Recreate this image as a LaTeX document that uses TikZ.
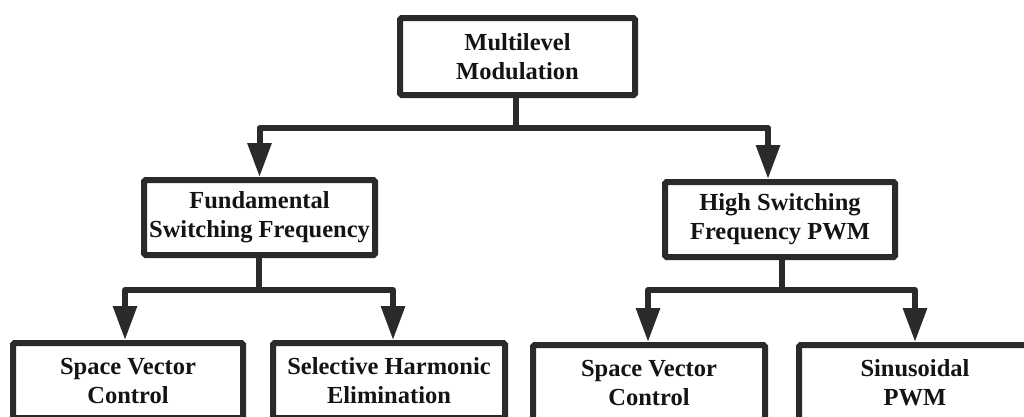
\documentclass[tikz,border=0pt]{standalone}
\usepackage{fontspec}
\setmainfont{Liberation Serif}
\usetikzlibrary{arrows.meta,calc}
\definecolor{ink}{HTML}{2A2A2A}
\definecolor{txt}{HTML}{141414}
\tikzset{
  box/.style={draw=ink, line width=6pt, rounded corners=1.5pt, fill=white,
    minimum width=#1, minimum height=75pt, inner sep=0pt, align=center,
    text=txt, font=\fontsize{24.5}{29}\selectfont\bfseries},
  link/.style={draw=ink, line width=6pt, line join=round},
  arrowlink/.style={link, -{Triangle[length=34pt,width=23pt]}},
}
\begin{document}
\begin{tikzpicture}[x=1pt,y=-1pt]
  \useasboundingbox (0,0) rectangle (1024,416);
  \clip (0,0) rectangle (1024,416);
  \fill[white] (0,0) rectangle (1024,416);

  % tree nodes
  \node[box=235pt, minimum height=77pt] (top) at (517.5,56.5) {Multilevel\\Modulation};
  \node[box=231pt] (fund) at (259.5,217.5) {Fundamental\\Switching Frequency};
  \node[box=230pt] (high) at (780,219.5) {High Switching\\Frequency PWM};
  \node[box=230pt] (sva) at (128,380.5) {Space Vector\\Control};
  \node[box=232pt] (she) at (389,380.5) {Selective Harmonic\\Elimination};
  \node[box=232pt] (svb) at (649,382.5) {Space Vector\\Control};
  \node[box=232pt] (spwm) at (915,382.5) {Sinusoidal\\PWM};

  % first level branches
  \coordinate (j0) at ($(top.south)+(-2,0)$);
  \coordinate (h0) at (j0 |- 0,128);
  \draw[link] (j0) -- (h0);
  \draw[arrowlink] (h0) -| (fund.north);
  \draw[arrowlink] (h0) -| ($(high.north)+(-12,0)$);

  % fundamental switching branches
  \coordinate (j1) at ($(fund.south)+(-1,0)$);
  \coordinate (h1) at (j1 |- 0,290);
  \draw[link] (j1) -- (h1);
  \draw[arrowlink] (h1) -| ($(sva.north)+(-3,0)$);
  \draw[arrowlink] (h1) -| ($(she.north)+(4,0)$);

  % high switching branches
  \coordinate (j2) at ($(high.south)+(2,0)$);
  \coordinate (h2) at (j2 |- 0,290);
  \draw[link] (j2) -- (h2);
  \draw[arrowlink] (h2) -| ($(svb.north)+(-1,0)$);
  \draw[arrowlink] (h2) -| (spwm.north);
\end{tikzpicture}
\end{document}
